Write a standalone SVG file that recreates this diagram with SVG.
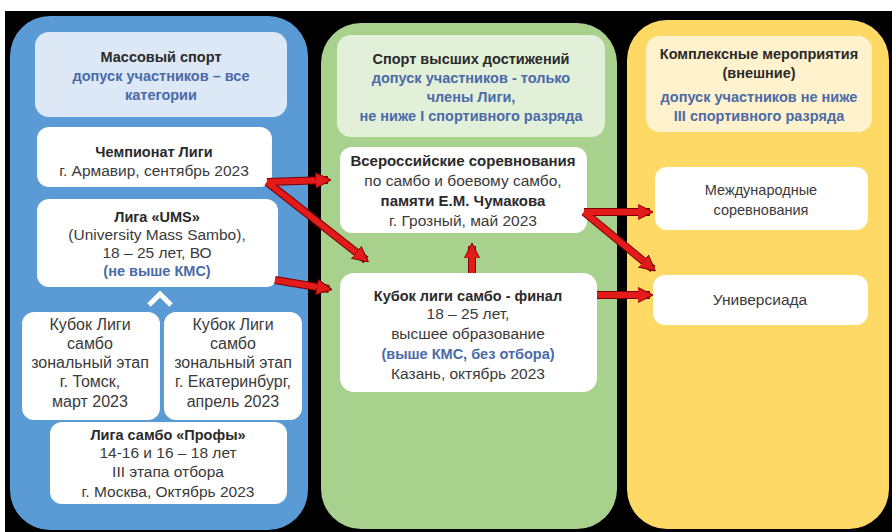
<svg xmlns="http://www.w3.org/2000/svg" width="892" height="532" viewBox="0 0 892 532">
<defs>
<marker id="ah" viewBox="0 0 10 10" refX="8" refY="5" markerWidth="2.6" markerHeight="3" orient="auto" markerUnits="strokeWidth">
<path d="M0,0 L10,5 L0,10 z" fill="#e41b1b" stroke="#7a0000" stroke-width="0.6"/>
</marker>
<style>
text{font-family:"Liberation Sans","Noto Sans",Arial,sans-serif;font-size:15.5px;fill:#3a3a3a;text-anchor:middle}
.b{font-weight:bold;fill:#2a2a2a;font-size:14.5px}
.bl{font-weight:bold;fill:#4a6aa8;font-size:14.5px}
.k{font-size:16px}
.s{font-size:14.5px}
.box{fill:#ffffff}
.conn line{stroke:#e41b1b;stroke-width:6;fill:none}
.under line{stroke:#7a0000;stroke-width:8;fill:none}
</style>
</defs>
<rect x="0" y="0" width="892" height="532" fill="#ffffff"/>
<rect x="5" y="11" width="887" height="521" fill="#000000"/>
<g id="col-mass">
<rect x="10" y="16" width="298" height="514" rx="40" fill="#5b9bd5"/>
</g>
<g id="col-elite">
<rect x="321" y="23" width="296" height="506" rx="40" fill="#a9d18e"/>
</g>
<g id="col-complex">
<rect x="627" y="20" width="262" height="509" rx="40" fill="#ffd966"/>
</g>
<g id="hdr-mass">
<rect x="35" y="32" width="252" height="85" rx="14" fill="#dce8f6"/>
<text class="b" x="161" y="62">Массовый спорт</text>
<text class="bl" x="161" y="81">допуск участников – все</text>
<text class="bl" x="161" y="100">категории</text>
</g>
<g id="n-champ">
<rect class="box" x="37" y="127" width="235" height="60" rx="12"/>
<text class="b" x="154" y="157">Чемпионат Лиги</text>
<text x="154" y="176">г. Армавир, сентябрь 2023</text>
</g>
<g id="n-ums">
<rect class="box" x="37" y="199" width="241" height="88" rx="12"/>
<text class="b" x="157" y="222">Лига «UMS»</text>
<text x="157" y="240">(University Mass Sambo),</text>
<text x="157" y="258">18 – 25 лет, ВО</text>
<text class="bl" x="157" y="276">(не выше КМС)</text>
</g>
<g id="chevron">
<polyline points="149,305 160,294 171,305" fill="none" stroke="#ffffff" stroke-width="5"/>
</g>
<g id="n-tomsk">
<rect class="box" x="22" y="312" width="138" height="108" rx="12"/>
<text class="k" x="90" y="330">Кубок Лиги</text>
<text class="k" x="90" y="349">самбо</text>
<text class="k" x="90" y="368">зональный этап</text>
<text class="k" x="90" y="387">г. Томск,</text>
<text class="k" x="90" y="407">март 2023</text>
</g>
<g id="n-ekb">
<rect class="box" x="164" y="312" width="138" height="108" rx="12"/>
<text class="k" x="233" y="330">Кубок Лиги</text>
<text class="k" x="233" y="349">самбо</text>
<text class="k" x="233" y="368">зональный этап</text>
<text class="k" x="233" y="387">г. Екатеринбург,</text>
<text class="k" x="233" y="407">апрель 2023</text>
</g>
<g id="n-profy">
<rect class="box" x="50" y="422" width="237" height="82" rx="12"/>
<text class="b" x="168" y="440">Лига самбо «Профы»</text>
<text x="168" y="458">14-16 и 16 – 18 лет</text>
<text x="168" y="477">III этапа отбора</text>
<text x="168" y="497">г. Москва, Октябрь 2023</text>
</g>
<g id="hdr-elite">
<rect x="337" y="35" width="268" height="102" rx="14" fill="#e2f0d9"/>
<text class="b" x="471" y="64">Спорт высших достижений</text>
<text class="bl" x="471" y="83">допуск участников  - только</text>
<text class="bl" x="471" y="102">члены Лиги,</text>
<text class="bl" x="471" y="121">не ниже I спортивного разряда</text>
</g>
<g id="n-vseross">
<rect class="box" x="340" y="147" width="247" height="86" rx="12"/>
<text class="b" x="463" y="166" style="font-size:15px">Всероссийские соревнования</text>
<text x="463" y="186">по самбо и боевому самбо,</text>
<text class="b" x="463" y="206" style="font-size:15px">памяти Е.М. Чумакова</text>
<text x="463" y="226">г. Грозный, май 2023</text>
</g>
<g id="n-final">
<rect class="box" x="340" y="273" width="257" height="119" rx="14"/>
<text class="b" x="468" y="301">Кубок лиги самбо - финал</text>
<text x="468" y="319">18 – 25 лет,</text>
<text x="468" y="339">высшее образование</text>
<text class="bl" x="468" y="359">(выше КМС, без отбора)</text>
<text x="468" y="379">Казань, октябрь 2023</text>
</g>
<g id="hdr-complex">
<rect x="646" y="36" width="226" height="96" rx="14" fill="#fff2cc"/>
<text class="b" x="759" y="59">Комплексные мероприятия</text>
<text class="b" x="759" y="78">(внешние)</text>
<text class="bl" x="759" y="102">допуск участников не ниже</text>
<text class="bl" x="759" y="121">III спортивного разряда</text>
</g>
<g id="n-intl">
<rect class="box" x="655" y="167" width="213" height="63" rx="12"/>
<text class="s" x="761" y="195">Международные</text>
<text class="s" x="761" y="215">соревнования</text>
</g>
<g id="n-univ">
<rect class="box" x="653" y="275" width="215" height="50" rx="12"/>
<text x="760" y="305">Универсиада</text>
</g>
<g id="connectors">
<g class="under">
<line x1="267" y1="182" x2="328" y2="180"/>
<line x1="267" y1="182" x2="366" y2="260"/>
<line x1="275" y1="280" x2="329" y2="289"/>
<line x1="472" y1="273" x2="472" y2="246"/>
<line x1="584" y1="212" x2="650" y2="212"/>
<line x1="584" y1="212" x2="653" y2="269"/>
<line x1="597" y1="295" x2="650" y2="295"/>
</g>
<g class="conn">
<line x1="267" y1="182" x2="328" y2="180" marker-end="url(#ah)"/>
<line x1="267" y1="182" x2="366" y2="260" marker-end="url(#ah)"/>
<line x1="275" y1="280" x2="329" y2="289" marker-end="url(#ah)"/>
<line x1="472" y1="273" x2="472" y2="246" marker-end="url(#ah)"/>
<line x1="584" y1="212" x2="650" y2="212" marker-end="url(#ah)"/>
<line x1="584" y1="212" x2="653" y2="269" marker-end="url(#ah)"/>
<line x1="597" y1="295" x2="650" y2="295" marker-end="url(#ah)"/>
</g>
</g>
</svg>
